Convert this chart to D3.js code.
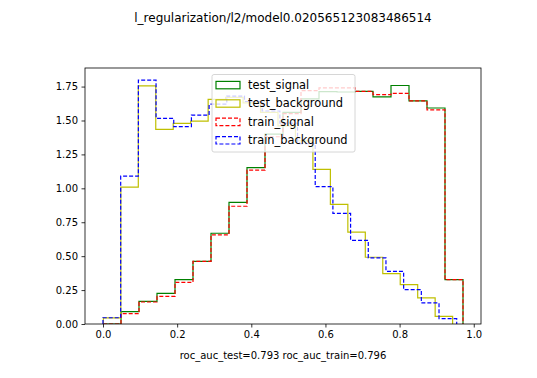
<!DOCTYPE html>
<html>
<head>
<meta charset="utf-8">
<script src="https://cdn.jsdelivr.net/npm/d3@7"></script>
<style>
  body { margin: 0; background: #fff; }
  svg { font-family: "DejaVu Sans", sans-serif; }
</style>
</head>
<body>
<svg width="537" height="378"></svg>
<script>
// histogram heights per bin (density), 20 bins each, plus bin range of each series
var seriesNames = ["test_signal", "test_background", "train_signal", "train_background"];

var testSignal = [0.0, 0.091, 0.167, 0.226, 0.327, 0.462, 0.669, 0.896, 1.152, 1.40,
                  1.56, 1.66, 1.713, 1.71, 1.715, 1.674, 1.758, 1.644, 1.592, 0.327];
var testSignalRange = [0.0, 0.971];

var testBackground = [0.045, 1.009, 1.755, 1.435, 1.479, 1.496, 1.656, 1.67, 1.63, 1.56,
                      1.46, 1.35, 1.14, 0.881, 0.677, 0.492, 0.371, 0.29, 0.192, 0.056];
var testBackgroundRange = [0.001, 0.943];

var trainSignal = [0.0, 0.076, 0.162, 0.204, 0.307, 0.462, 0.657, 0.868, 1.134, 1.38,
                   1.55, 1.72, 1.74, 1.74, 1.715, 1.69, 1.70, 1.644, 1.578, 0.327];
var trainSignalRange = [0.0, 0.971];

var trainBackground = [0.046, 1.09, 1.797, 1.516, 1.455, 1.54, 1.62, 1.68, 1.64, 1.57,
                       1.48, 1.33, 1.012, 0.815, 0.617, 0.487, 0.388, 0.253, 0.155, 0.039];
var trainBackgroundRange = [0.0, 0.954];

var xTicks = [0.0, 0.2, 0.4, 0.6, 0.8, 1.0];
var yTicks = [0.0, 0.25, 0.5, 0.75, 1.0, 1.25, 1.5, 1.75];

var titleText = "l_regularization/l2/model0.020565123083486514";
var xLabelText = "roc_auc_test=0.793 roc_auc_train=0.796";

var series = [
    {name: seriesNames[0], values: testSignal, range: testSignalRange, color: "#008000", dash: null},
    {name: seriesNames[1], values: testBackground, range: testBackgroundRange, color: "#bfbf00", dash: null},
    {name: seriesNames[2], values: trainSignal, range: trainSignalRange, color: "#ff0000", dash: "4,2"},
    {name: seriesNames[3], values: trainBackground, range: trainBackgroundRange, color: "#0000ff", dash: "4,2"}
];

var svg = d3.select("svg"),
    margin = {left: 85, right: 56, top: 68, bottom: 54},
    width = +svg.attr("width") - margin.left - margin.right,
    height = +svg.attr("height") - margin.top - margin.bottom;

var g = svg.append("g").attr("transform", "translate(" + margin.left + "," + margin.top + ")");

// matplotlib style 5% margins around the data
var xmin = d3.min(series, function(s) { return s.range[0]; }),
    xmax = d3.max(series, function(s) { return s.range[1]; }),
    xpad = (xmax - xmin) * 0.05;
var ymax = d3.max(series, function(s) { return d3.max(s.values); }) * 1.05;

var x = d3.scaleLinear().domain([xmin - xpad, xmax + xpad]).range([0, width]);
var y = d3.scaleLinear().domain([0, ymax]).range([height, 0]);

function stepPath(s) {
    var n = s.values.length,
        w = (s.range[1] - s.range[0]) / n;
    var pts = [[s.range[0], 0]];
    s.values.forEach(function(v, i) {
        pts.push([s.range[0] + i * w, v]);
        pts.push([s.range[0] + (i + 1) * w, v]);
    });
    pts.push([s.range[1], 0]);
    return d3.line().x(function(d) { return x(d[0]); }).y(function(d) { return y(d[1]); })(pts);
}

g.append("defs").append("clipPath").attr("id", "clip")
    .append("rect").attr("width", width).attr("height", height);

g.append("g").attr("clip-path", "url(#clip)")
    .selectAll("path")
    .data(series)
    .enter().append("path")
    .attr("d", stepPath)
    .attr("fill", "none")
    .attr("stroke", function(d) { return d.color; })
    .attr("stroke-width", 1.2)
    .attr("stroke-dasharray", function(d) { return d.dash; });

// axes
var xAxis = g.append("g")
    .attr("transform", "translate(0," + height + ")")
    .call(d3.axisBottom(x).tickValues(xTicks).tickFormat(d3.format(".1f")).tickSize(3.5).tickPadding(3.5).tickSizeOuter(0));
var yAxis = g.append("g")
    .call(d3.axisLeft(y).tickValues(yTicks).tickFormat(d3.format(".2f")).tickSize(3.5).tickPadding(3.5).tickSizeOuter(0));

[xAxis, yAxis].forEach(function(a) {
    a.select(".domain").remove();
    a.selectAll("line").attr("stroke", "#000").attr("stroke-width", 0.8);
    a.selectAll("text").attr("fill", "#000").style("font-size", "10px").style("font-family", "DejaVu Sans");
});

g.append("rect")
    .attr("width", width).attr("height", height)
    .attr("fill", "none").attr("stroke", "#000").attr("stroke-width", 0.8);

// legend
var legend = svg.append("g").attr("transform", "translate(212,74.5)");
legend.append("rect")
    .attr("width", 143).attr("height", 77.5).attr("rx", 2)
    .attr("fill", "#fff").attr("fill-opacity", 0.8)
    .attr("stroke", "#cccccc").attr("stroke-width", 0.8);

var item = legend.selectAll(".item")
    .data(series)
    .enter().append("g")
    .attr("class", "item")
    .attr("transform", function(d, i) { return "translate(4," + (10.5 + i * 18.4) + ")"; });

item.append("rect")
    .attr("x", 0).attr("y", -3.6)
    .attr("width", 24).attr("height", 7.4)
    .attr("fill", "none")
    .attr("stroke", function(d) { return d.color; })
    .attr("stroke-width", 1.2)
    .attr("stroke-dasharray", function(d) { return d.dash; });

item.append("text")
    .attr("x", 32).attr("y", 4)
    .style("font-size", "11.4px")
    .attr("fill", "#000")
    .text(function(d) { return d.name; });

// title and x label
svg.append("text")
    .attr("x", margin.left + width / 2).attr("y", 22)
    .attr("text-anchor", "middle")
    .style("font-size", "12px")
    .text(titleText);

svg.append("text")
    .attr("x", margin.left + width / 2).attr("y", 359)
    .attr("text-anchor", "middle")
    .style("font-size", "10px")
    .text(xLabelText);
</script>
</body>
</html>
